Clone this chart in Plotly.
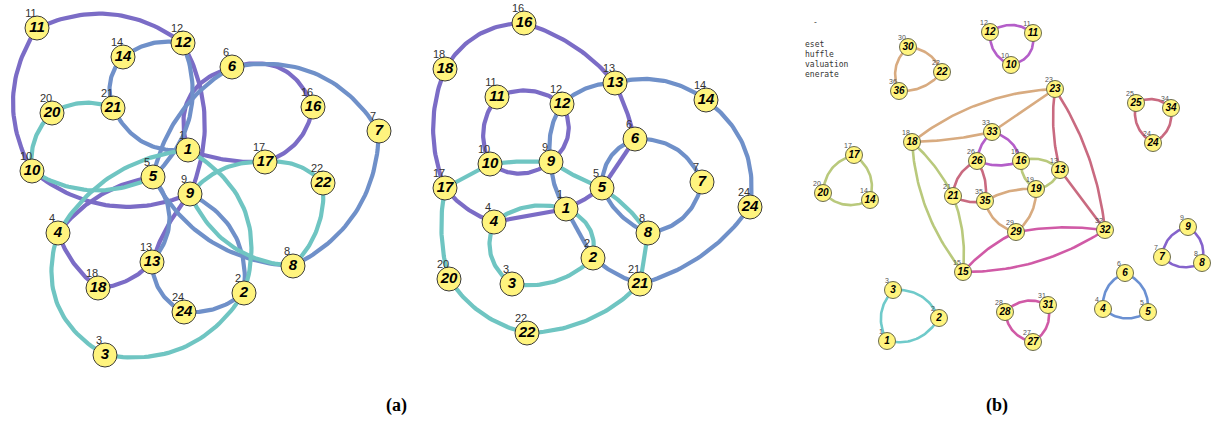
import numpy as np
import plotly.graph_objects as go

# ---------------- Panel (a) left layout ----------------
L_ids = [1, 2, 3, 4, 5, 6, 7, 8, 9, 10, 11, 12, 13, 14, 16, 17, 18, 20, 21, 22, 24]
L_x = [188, 244, 105, 58, 153, 232, 379, 293, 190, 32, 37, 183, 152, 123, 313, 265, 98, 52, 113, 323, 184]
L_y = [150, 293, 355, 233, 177, 67, 131, 266, 194, 171, 28, 43, 262, 57, 107, 162, 288, 113, 108, 183, 312]

L_purple = [(11, 12), (10, 11), (12, 9), (10, 9), (4, 5), (4, 18), (18, 13), (13, 9),
            (6, 16), (16, 17), (17, 1), (1, 6)]
L_purple_bend = [-0.29, -0.3, -0.24, 0.29, -0.2, 0.15, 0.2, -0.1, -0.45, -0.3, -0.1, -0.5]
L_blue = [(12, 14), (14, 21), (21, 1), (12, 5), (5, 13), (13, 24), (24, 2), (2, 9),
          (5, 8), (8, 7), (7, 6), (6, 5)]
L_blue_bend = [0.22, 0.3, 0.35, -0.33, -0.4, 0.3, 0.2, 0.35, 0.28, 0.3, 0.34, 0.22]
L_cyan = [(20, 21), (20, 10), (4, 1), (10, 5), (9, 17), (17, 22), (22, 8), (8, 9),
          (1, 2), (4, 3), (3, 2)]
L_cyan_bend = [-0.25, 0.25, -0.25, 0.27, -0.25, -0.25, -0.23, -0.3, -0.4, 0.4, 0.33]

# ---------------- Panel (a) right layout ----------------
M_ids = [1, 2, 3, 4, 5, 6, 7, 8, 9, 10, 11, 12, 13, 14, 16, 17, 18, 20, 21, 22, 24]
M_x = [566, 593, 512, 494, 602, 635, 702, 648, 551, 490, 497, 562, 615, 706, 524, 445, 445, 449, 640, 527, 750]
M_y = [209, 258, 284, 222, 188, 139, 182, 233, 162, 164, 97, 104, 83, 100, 23, 188, 69, 279, 284, 333, 207]

M_purple = [(18, 16), (16, 13), (18, 17), (17, 4), (4, 1), (1, 5), (5, 6), (6, 13),
            (11, 12), (12, 9), (9, 10), (10, 11)]
M_purple_bend = [-0.28, -0.15, 0.2, 0.15, 0.0, 0.05, 0.0, 0.05, -0.3, -0.4, -0.35, -0.3]
M_blue = [(12, 13), (13, 14), (14, 24), (24, 21), (21, 2), (2, 1), (1, 9), (9, 12),
          (6, 7), (7, 8), (8, 5), (5, 6)]
M_blue_bend = [-0.2, -0.24, -0.3, -0.18, -0.1, 0.0, -0.15, -0.2, -0.35, -0.35, -0.2, -0.35]
M_cyan = [(17, 10), (10, 9), (9, 5), (5, 8), (8, 21), (21, 22), (22, 20), (20, 17),
          (4, 1), (1, 2), (2, 3), (3, 4)]
M_cyan_bend = [0.0, -0.05, 0.05, -0.1, 0.0, -0.2, -0.2, -0.12, -0.25, -0.4, -0.25, -0.38]

# ---------------- Panel (b) ----------------
R_ids = [12, 11, 10, 30, 22, 36, 23, 25, 34, 24, 18, 33, 26, 16, 13, 19, 17, 20, 14,
         21, 35, 29, 32, 15, 9, 7, 8, 6, 4, 5, 3, 2, 1, 28, 31, 27]
R_x = [990, 1033, 1011, 908, 942, 899, 1055, 1136, 1171, 1153, 912, 992, 977, 1021, 1060, 1036, 854, 823, 870,
       953, 985, 1016, 1105, 963, 1188, 1162, 1202, 1125, 1103, 1148, 893, 939, 887, 1005, 1048, 1033]
R_y = [32, 33, 65, 47, 72, 91, 89, 103, 108, 143, 142, 132, 161, 161, 170, 189, 155, 193, 200,
       196, 201, 232, 230, 272, 227, 257, 263, 273, 309, 312, 290, 318, 341, 312, 305, 342]

R_edges = {
    "tan": [(30, 22), (22, 36), (36, 30), (18, 23), (18, 33), (33, 23), (35, 19), (19, 29), (29, 35)],
    "olive": [(17, 14), (14, 20), (20, 17), (18, 21), (18, 15), (21, 15), (16, 13), (13, 19), (19, 16)],
    "magenta": [(12, 11), (11, 10), (10, 12), (33, 16), (16, 26), (26, 33)],
    "red": [(25, 34), (34, 24), (24, 25), (26, 21), (21, 35), (35, 26), (23, 13), (23, 32), (13, 32)],
    "pink": [(28, 31), (31, 27), (27, 28), (29, 32), (15, 32), (15, 29)],
    "cyan": [(3, 2), (2, 1), (1, 3)],
    "blue": [(6, 5), (5, 4), (4, 6)],
    "violet": [(9, 8), (8, 7), (7, 9)],
}
R_bends = {
    "tan": [-0.3, -0.25, -0.35, -0.16, 0.05, 0.0, -0.15, -0.25, -0.3],
    "olive": [-0.35, -0.35, -0.35, -0.1, 0.16, -0.12, -0.3, -0.3, -0.3],
    "magenta": [-0.35, -0.45, -0.35, -0.3, -0.2, -0.2],
    "red": [-0.35, -0.35, -0.35, 0.3, 0.2, 0.2, 0.1, -0.12, 0.0],
    "pink": [-0.35, -0.35, -0.35, -0.08, 0.15, -0.1],
    "cyan": [-0.35, -0.35, -0.35],
    "blue": [-0.35, -0.35, -0.35],
    "violet": [-0.35, -0.35, -0.35],
}

menu_lines = ["eset", "huffle", "valuation", "enerate"]
panel_labels = ["(a)", "(b)"]

# ---------------- styles ----------------
A_COLORS = {"purple": "#7b6cc6", "blue": "#6f90c9", "cyan": "#6fc5c2"}
B_COLORS = {"tan": "#d8ab80", "olive": "#b9c97c", "magenta": "#b45ec9", "red": "#c96a80",
            "pink": "#d05aa6", "cyan": "#6fcaca", "blue": "#6a90d2", "violet": "#8563cc"}
NODE_FILL = "#fff47e"
NODE_LINE = "#3a3a3a"


def bezier(p0, p2, b, n=40):
    p0 = np.asarray(p0, float)
    p2 = np.asarray(p2, float)
    d = p2 - p0
    nvec = np.array([-d[1], d[0]])
    ctrl = (p0 + p2) / 2 + b * nvec
    t = np.linspace(0, 1, n)[:, None]
    pts = (1 - t) ** 2 * p0 + 2 * (1 - t) * t * ctrl + t ** 2 * p2
    return pts


def edge_trace(pos, edges, bends, color, width):
    xs, ys = [], []
    for (u, v), b in zip(edges, bends):
        pts = bezier(pos[u], pos[v], b)
        xs += list(pts[:, 0]) + [None]
        ys += list(pts[:, 1]) + [None]
    return go.Scatter(x=xs, y=ys, mode="lines", line=dict(color=color, width=width),
                      hoverinfo="skip", showlegend=False)


fig = go.Figure()

# panel (a) both layouts
for ids, xs, ys, groups in [
    (L_ids, L_x, L_y, [("purple", L_purple, L_purple_bend), ("blue", L_blue, L_blue_bend),
                       ("cyan", L_cyan, L_cyan_bend)]),
    (M_ids, M_x, M_y, [("purple", M_purple, M_purple_bend), ("blue", M_blue, M_blue_bend),
                       ("cyan", M_cyan, M_cyan_bend)]),
]:
    pos = {i: (x, y) for i, x, y in zip(ids, xs, ys)}
    for cname, edges, bends in groups:
        fig.add_trace(edge_trace(pos, edges, bends, A_COLORS[cname], 4.2))

# panel (b) edges
Rpos = {i: (x, y) for i, x, y in zip(R_ids, R_x, R_y)}
for cname, edges in R_edges.items():
    fig.add_trace(edge_trace(Rpos, edges, R_bends[cname], B_COLORS[cname], 2.6))

# nodes panel (a)
for ids, xs, ys in [(L_ids, L_x, L_y), (M_ids, M_x, M_y)]:
    fig.add_trace(go.Scatter(
        x=xs, y=ys, mode="markers+text", text=[str(i) for i in ids],
        textposition="middle center",
        textfont=dict(family="Liberation Sans, Arial", size=15, color="black", weight="bold", style="italic"),
        marker=dict(size=24, color=NODE_FILL, line=dict(color=NODE_LINE, width=1)),
        hoverinfo="skip", showlegend=False))
    fig.add_trace(go.Scatter(
        x=[x - 6 for x in xs], y=[y - 14 for y in ys], mode="text", text=[str(i) for i in ids],
        textposition="middle center",
        textfont=dict(family="Liberation Sans, Arial", size=11, color="#333333"),
        hoverinfo="skip", showlegend=False))

# nodes panel (b)
fig.add_trace(go.Scatter(
    x=R_x, y=R_y, mode="markers+text", text=[str(i) for i in R_ids],
    textposition="middle center",
    textfont=dict(family="Liberation Sans, Arial", size=10, color="black", weight="bold", style="italic"),
    marker=dict(size=17, color=NODE_FILL, line=dict(color="#6b6b4a", width=1)),
    hoverinfo="skip", showlegend=False))
fig.add_trace(go.Scatter(
    x=[x - 6 for x in R_x], y=[y - 9 for y in R_y], mode="text", text=[str(i) for i in R_ids],
    textposition="middle center",
    textfont=dict(family="Liberation Sans, Arial", size=7, color="#555555"),
    hoverinfo="skip", showlegend=False))

# menu text
fig.add_annotation(x=815, y=22, text="-", showarrow=False, xanchor="center", yanchor="middle",
                   font=dict(family="DejaVu Sans Mono", size=8, color="#444444"))
for k, t in enumerate(menu_lines):
    fig.add_annotation(x=803, y=44 + 10 * k, text=t, showarrow=False, xanchor="left", yanchor="middle",
                       font=dict(family="DejaVu Sans Mono", size=8, color="#333333"))

# panel labels
for t, x in zip(panel_labels, [396, 997]):
    fig.add_annotation(x=x, y=405, text="<b>%s</b>" % t, showarrow=False, xanchor="center", yanchor="middle",
                       font=dict(family="Liberation Serif, Times New Roman", size=18, color="black"))

fig.update_layout(
    width=1214, height=423, margin=dict(l=0, r=0, t=0, b=0),
    paper_bgcolor="white", plot_bgcolor="white",
    xaxis=dict(range=[0, 1214], visible=False, fixedrange=True),
    yaxis=dict(range=[423, 0], visible=False, fixedrange=True),
    showlegend=False,
)
fig.write_html("out.html")
